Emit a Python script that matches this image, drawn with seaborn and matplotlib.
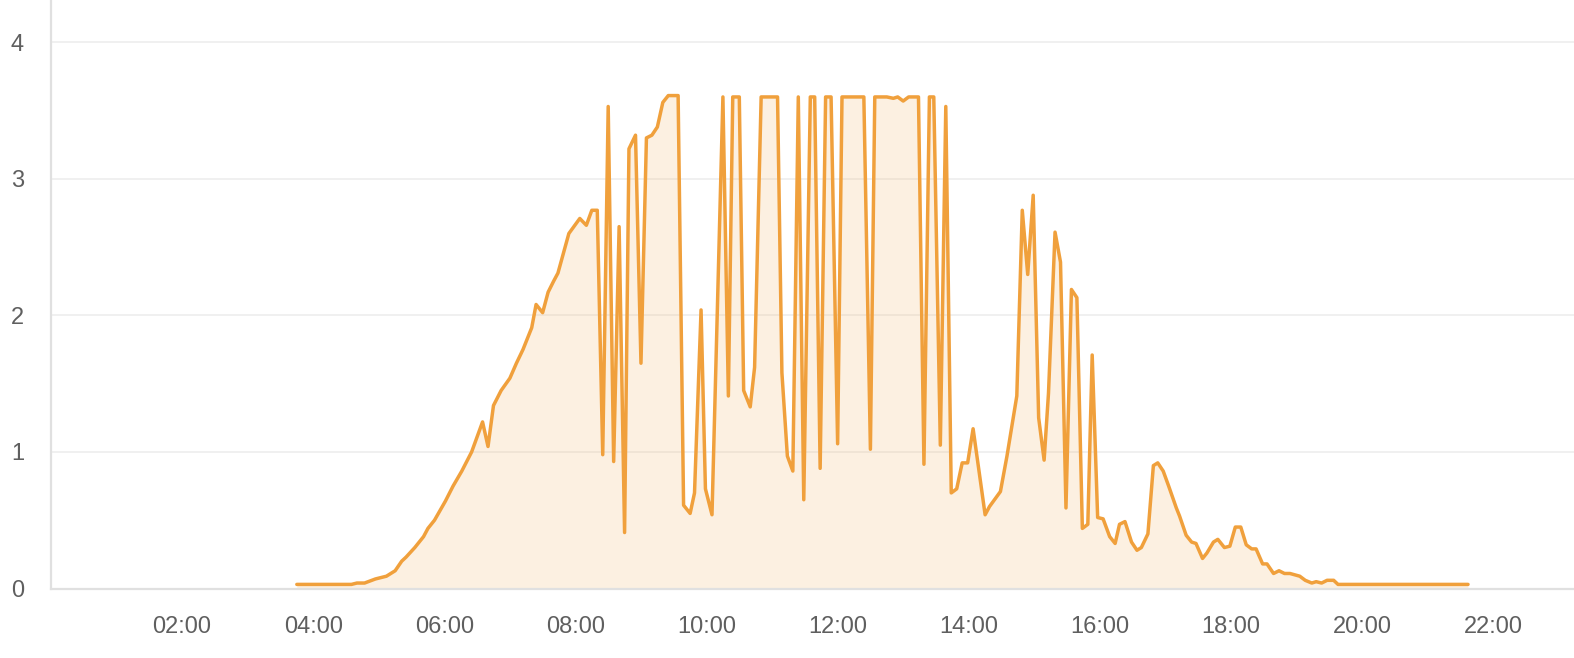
import pandas as pd
import matplotlib
matplotlib.use("Agg")
import matplotlib.pyplot as plt
import seaborn as sns

# ---- data (time of day, value) ----
times = [
    "03:45", "04:35", "04:40", "04:47", "04:57", "05:07", "05:15", "05:21", "05:25", "05:33",
    "05:41", "05:45", "05:51", "06:01", "06:08", "06:16", "06:25", "06:35", "06:40", "06:45",
    "06:52", "07:00", "07:06", "07:12", "07:20", "07:24", "07:30", "07:35", "07:40", "07:44",
    "07:54", "08:04", "08:10", "08:15", "08:20", "08:25", "08:30", "08:35", "08:40", "08:45",
    "08:49", "08:55", "09:00", "09:05", "09:10", "09:15", "09:20", "09:25", "09:34", "09:39",
    "09:45", "09:49", "09:55", "09:59", "10:05", "10:15", "10:20", "10:24", "10:30", "10:34",
    "10:40", "10:44", "10:50", "11:05", "11:09", "11:14", "11:19", "11:24", "11:29", "11:35",
    "11:39", "11:44", "11:49", "11:54", "12:00", "12:04", "12:24", "12:30", "12:34", "12:45",
    "12:51", "12:55", "13:00", "13:05", "13:14", "13:19", "13:24", "13:28", "13:34", "13:39",
    "13:44", "13:49", "13:54", "13:59", "14:04", "14:15", "14:19", "14:29", "14:35", "14:44",
    "14:49", "14:54", "14:59", "15:04", "15:09", "15:13", "15:19", "15:24", "15:29", "15:34",
    "15:39", "15:44", "15:49", "15:53", "15:58", "16:03", "16:09", "16:14", "16:18", "16:23",
    "16:29", "16:34", "16:38", "16:44", "16:49", "16:53", "16:58", "17:03", "17:10", "17:13",
    "17:19", "17:24", "17:28", "17:34", "17:38", "17:44", "17:48", "17:54", "17:59", "18:04",
    "18:09", "18:14", "18:19", "18:23", "18:29", "18:33", "18:39", "18:44", "18:49", "18:54",
    "19:03", "19:08", "19:14", "19:18", "19:23", "19:28", "19:34", "19:38", "21:37",
]
values = [
    0.03, 0.03, 0.04, 0.04, 0.07, 0.09, 0.13, 0.20, 0.23, 0.30,
    0.38, 0.44, 0.50, 0.64, 0.75, 0.86, 1.00, 1.22, 1.04, 1.34,
    1.45, 1.54, 1.65, 1.75, 1.91, 2.08, 2.02, 2.17, 2.25, 2.31,
    2.60, 2.71, 2.66, 2.77, 2.77, 0.98, 3.53, 0.93, 2.65, 0.41,
    3.22, 3.32, 1.65, 3.30, 3.32, 3.38, 3.56, 3.61, 3.61, 0.61,
    0.55, 0.70, 2.04, 0.73, 0.54, 3.60, 1.41, 3.60, 3.60, 1.45,
    1.33, 1.62, 3.60, 3.60, 1.58, 0.97, 0.86, 3.60, 0.65, 3.60,
    3.60, 0.88, 3.60, 3.60, 1.06, 3.60, 3.60, 1.02, 3.60, 3.60,
    3.59, 3.60, 3.57, 3.60, 3.60, 0.91, 3.60, 3.60, 1.05, 3.53,
    0.70, 0.73, 0.92, 0.92, 1.17, 0.54, 0.60, 0.71, 0.97, 1.41,
    2.77, 2.30, 2.88, 1.25, 0.94, 1.43, 2.61, 2.39, 0.59, 2.19,
    2.13, 0.44, 0.47, 1.71, 0.52, 0.51, 0.38, 0.33, 0.47, 0.49,
    0.34, 0.28, 0.30, 0.40, 0.90, 0.92, 0.86, 0.75, 0.59, 0.53,
    0.39, 0.34, 0.33, 0.22, 0.26, 0.34, 0.36, 0.30, 0.31, 0.45,
    0.45, 0.32, 0.29, 0.29, 0.18, 0.18, 0.11, 0.13, 0.11, 0.11,
    0.09, 0.06, 0.04, 0.05, 0.04, 0.06, 0.06, 0.03, 0.03,
]
tick_hours = list(range(0, 24, 2))
tick_labels = [""] + [f"{h:02d}:00" for h in tick_hours[1:]]
y_ticks = [0, 1, 2, 3, 4]

df = pd.DataFrame({"time": times, "value": values})
df["minute"] = pd.to_timedelta(df["time"] + ":00").dt.total_seconds() / 60

# ---- style ----
sns.set_theme(style="white")
plt.rcParams["font.family"] = ["Liberation Sans", "DejaVu Sans"]
line_color = "#F0A03C"
axis_color = "#E0E0E0"
grid_color = "#EEEEEE"
text_color = "#5F5F5F"

fig = plt.figure(figsize=(15.74, 6.58), dpi=100)
ax = fig.add_axes([51 / 1574, 69.5 / 658, 1 - 51 / 1574, 588.5 / 658])

sns.lineplot(data=df, x="minute", y="value", ax=ax, color=line_color,
             linewidth=2.5, sort=True)
ax.fill_between(df["minute"], df["value"], 0, color=line_color, alpha=0.15, linewidth=0)

ax.set_xlim(0, 1394)
ax.set_ylim(0, 4.31)
ax.set_xticks([h * 60 for h in tick_hours])
ax.set_xticklabels(tick_labels)
ax.set_yticks(y_ticks)
ax.set_yticklabels([str(v) for v in y_ticks])
ax.set_xlabel("")
ax.set_ylabel("")

ax.grid(axis="y", color=grid_color, linewidth=1.2)
ax.grid(axis="x", visible=False)
ax.set_axisbelow(True)

sns.despine(ax=ax, top=True, right=True)
for side in ("left", "bottom"):
    ax.spines[side].set_color(axis_color)
    ax.spines[side].set_linewidth(1.6)

ax.tick_params(axis="both", which="major", colors=axis_color, length=4.5, width=1.6,
               labelcolor=text_color, labelsize=17)
ax.tick_params(axis="x", pad=15)
ax.tick_params(axis="y", pad=15)

fig.savefig("out.png", dpi=100)
